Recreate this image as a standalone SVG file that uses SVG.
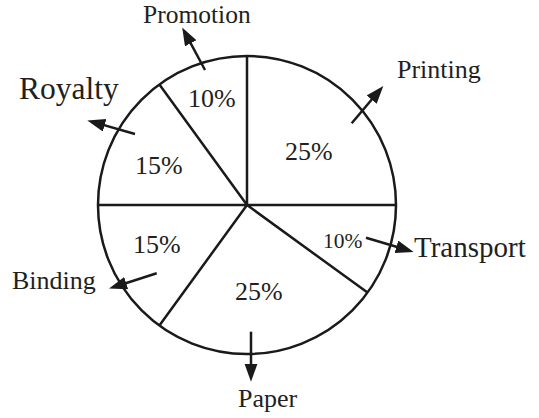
<svg xmlns="http://www.w3.org/2000/svg" width="539" height="418" viewBox="0 0 539 418">
<style>
.pie{fill:none;stroke:#1a1a1a;stroke-width:2.5}
.arr{stroke:#1a1a1a;stroke-width:2.5;fill:none;marker-end:url(#ah)}
text{font-family:"Liberation Serif","Times New Roman",serif;fill:#231f20}
.lb{font-size:26px}
.pc{font-size:26px}
</style>
<defs>
<marker id="ah" markerUnits="userSpaceOnUse" markerWidth="19" markerHeight="14" refX="7" refY="6.5" orient="auto">
<path d="M0,0 L18,6.5 L0,13 z" fill="#1a1a1a"/>
</marker>
</defs>
<rect width="539" height="418" fill="#fff"/>
<g id="pie">
<circle class="pie" cx="247" cy="205" r="149"/>
<path class="pie" d="M247,205 L247,56 M247,205 L396,205 M247,205 L98,205 M247,205 L367.5,292.6 M247,205 L159.4,325.5 M247,205 L159.4,84.5"/>
</g>
<g id="connectors">
<line class="arr" x1="205" y1="70" x2="187.4" y2="37.1"/>
<line class="arr" x1="351.7" y1="123.3" x2="376.2" y2="94.3"/>
<line class="arr" x1="135" y1="134" x2="97.9" y2="123.4"/>
<line class="arr" x1="366" y1="237.7" x2="403.1" y2="248.8"/>
<line class="arr" x1="156.7" y1="273.3" x2="119.5" y2="285.2"/>
<line class="arr" x1="251" y1="331.7" x2="251" y2="370.7"/>
</g>
<g id="promotion"><text class="lb" x="143" y="23" style="font-size:25.5px">Promotion</text><text class="pc" x="188" y="107">10%</text></g>
<g id="printing"><text class="lb" x="397" y="78">Printing</text><text class="pc" x="285" y="160">25%</text></g>
<g id="royalty"><text class="lb" x="19" y="99" style="font-size:31.5px">Royalty</text><text class="pc" x="135" y="174">15%</text></g>
<g id="transport"><text class="lb" x="414" y="257" style="font-size:29px">Transport</text><text class="pc" x="323" y="248" style="font-size:21.5px">10%</text></g>
<g id="binding"><text class="lb" x="12" y="289">Binding</text><text class="pc" x="133" y="253">15%</text></g>
<g id="paper"><text class="lb" x="238" y="407">Paper</text><text class="pc" x="235" y="300">25%</text></g>
</svg>
